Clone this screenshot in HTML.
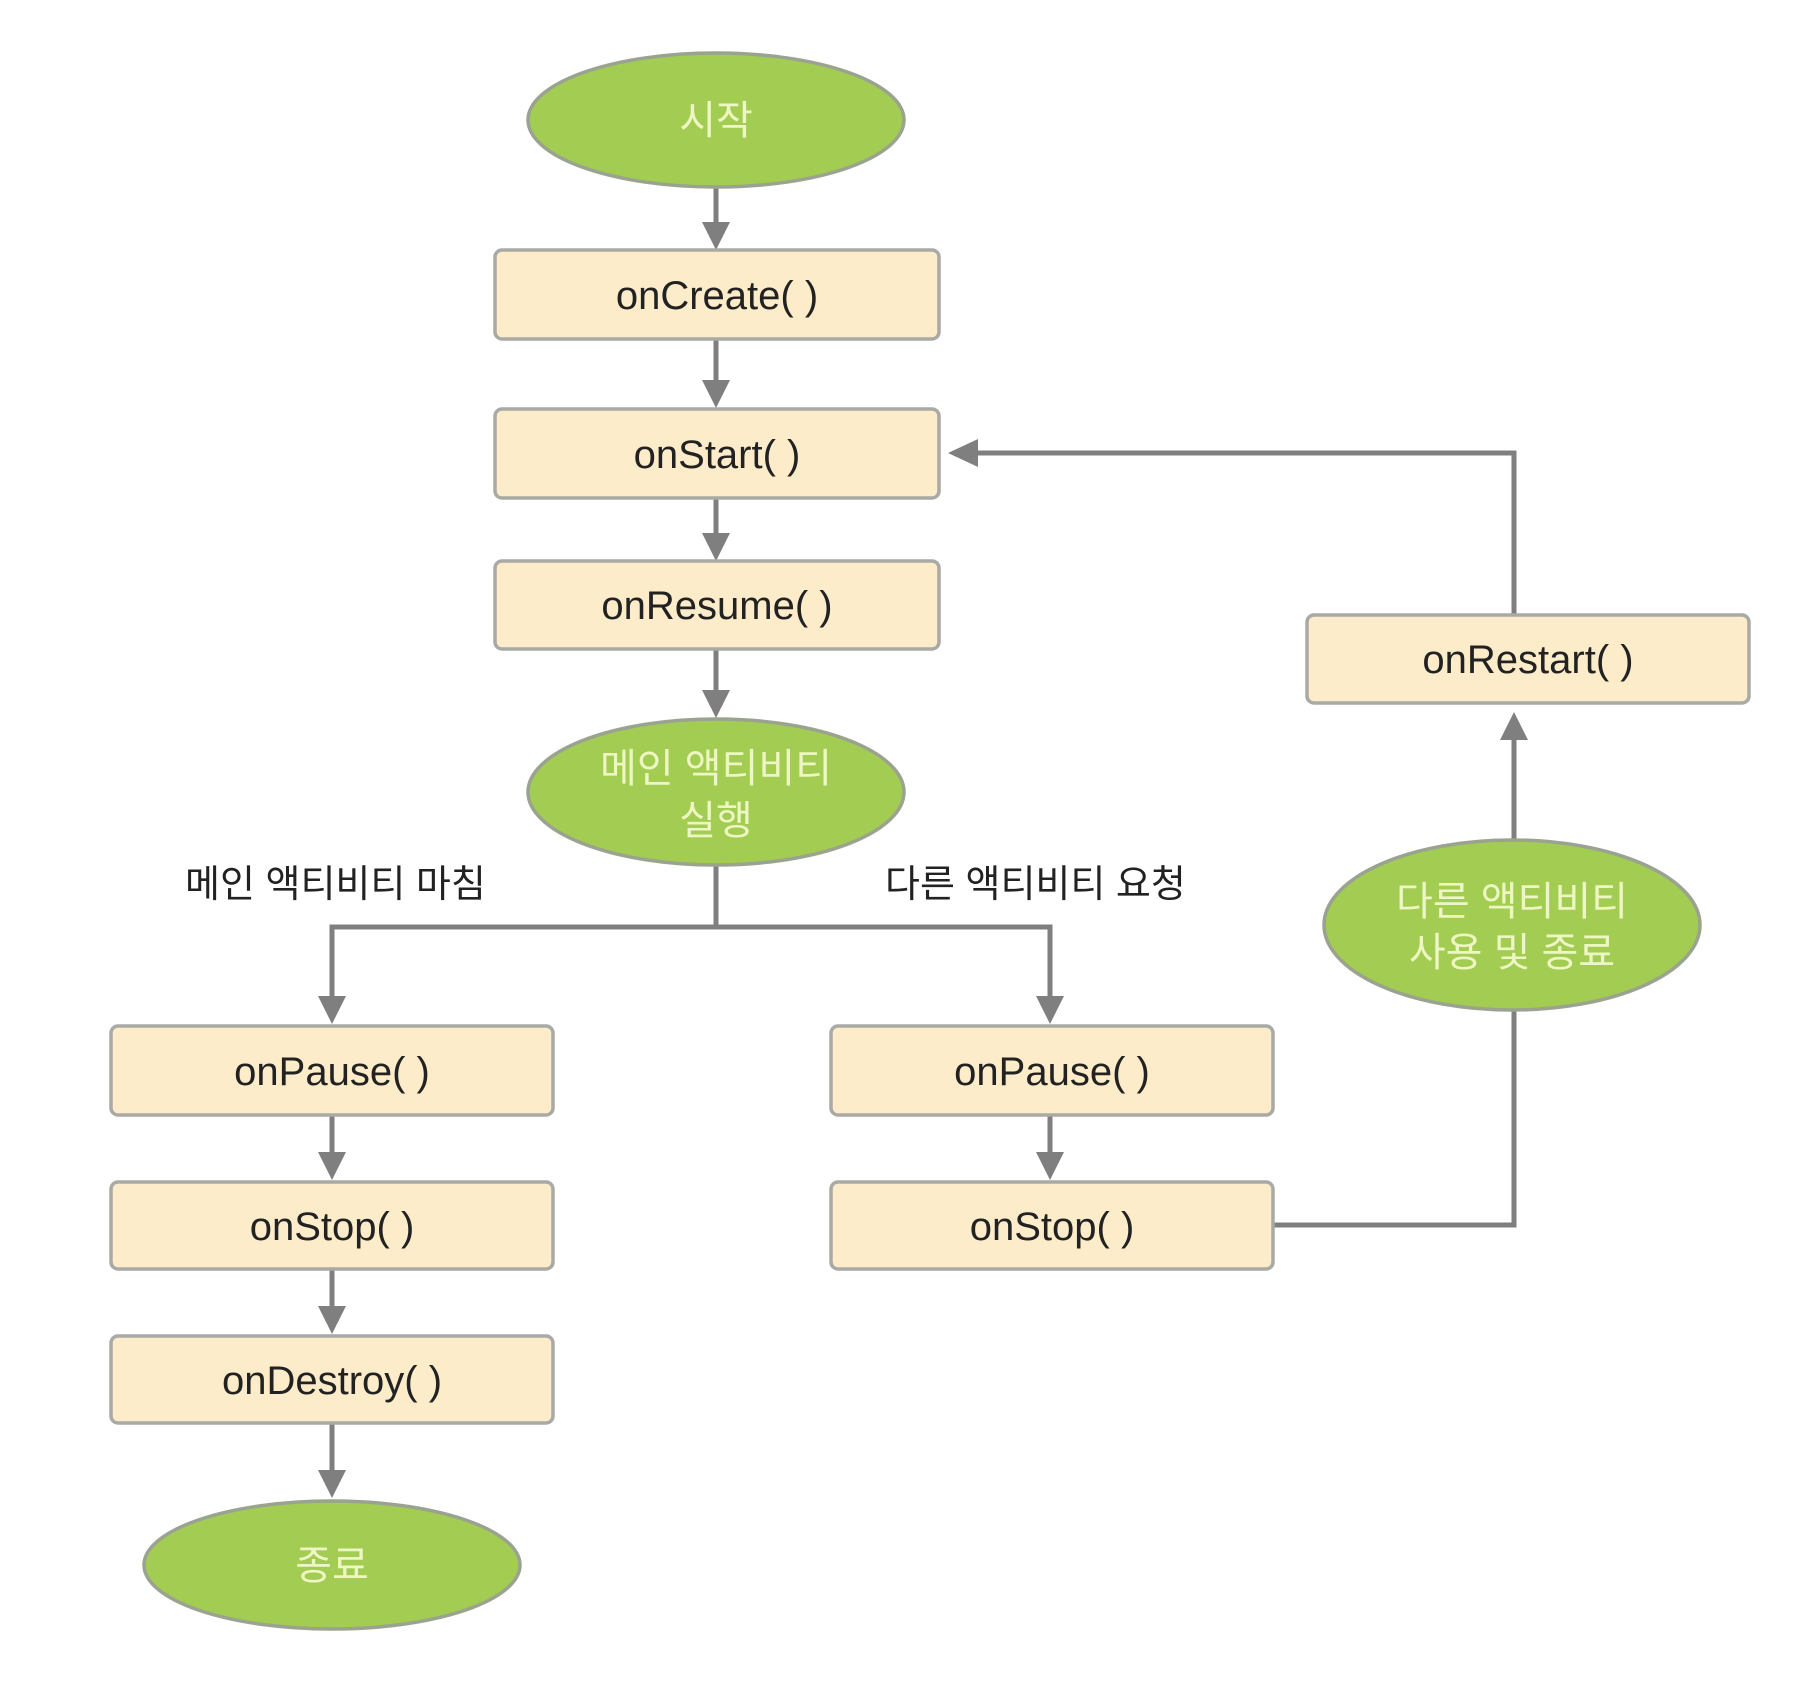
<!DOCTYPE html>
<html><head><meta charset="utf-8"><style>
html,body{margin:0;padding:0;background:#fff;}
svg{display:block}
text{font-family:"Liberation Sans","Noto Sans CJK KR","NanumGothic",sans-serif;}
.b{fill:#fdecc9;stroke:#a9a9a6;stroke-width:3.5}
.e{fill:#a3cc52;stroke:#9aa390;stroke-width:3.5}
.t{font-size:40px;fill:#222;text-anchor:middle}
.g{font-size:40px;fill:#eef7c4;text-anchor:middle}
.l{font-size:38px;fill:#222}
.ln{stroke:#7f7f7f;stroke-width:5;fill:none}
.ar{fill:#7f7f7f}
</style></head><body>
<svg width="1808" height="1684" viewBox="0 0 1808 1684" xmlns="http://www.w3.org/2000/svg">
<!-- connectors -->
<g class="ln">
<line x1="716" y1="187" x2="716" y2="230"/>
<line x1="716" y1="340" x2="716" y2="390"/>
<line x1="716" y1="498" x2="716" y2="543"/>
<line x1="716" y1="649" x2="716" y2="700"/>
<polyline points="716,865 716,927 332,927 332,1000"/>
<polyline points="716,927 1050,927 1050,1000"/>
<line x1="332" y1="1115" x2="332" y2="1162"/>
<line x1="332" y1="1269" x2="332" y2="1316"/>
<line x1="332" y1="1423" x2="332" y2="1480"/>
<line x1="1050" y1="1115" x2="1050" y2="1162"/>
<polyline points="1273,1225 1514,1225 1514,1010"/>
<line x1="1514" y1="840" x2="1514" y2="735"/>
<polyline points="1514,615 1514,453 970,453"/>
</g>
<g class="ar">
<polygon points="702,222 730,222 716,250"/>
<polygon points="702,380 730,380 716,408"/>
<polygon points="702,533 730,533 716,561"/>
<polygon points="702,690 730,690 716,718"/>
<polygon points="318,996 346,996 332,1024"/>
<polygon points="1036,996 1064,996 1050,1024"/>
<polygon points="318,1152 346,1152 332,1180"/>
<polygon points="318,1306 346,1306 332,1334"/>
<polygon points="318,1470 346,1470 332,1498"/>
<polygon points="1036,1152 1064,1152 1050,1180"/>
<polygon points="1500,740 1528,740 1514,712"/>
<polygon points="978,439 978,467 948,453"/>
</g>
<!-- ellipses -->
<ellipse class="e" cx="716" cy="120" rx="188" ry="67"/>
<text class="g" x="716" y="134">시작</text>
<ellipse class="e" cx="716" cy="792" rx="188" ry="73"/>
<text class="g" x="716" y="782">메인 액티비티</text>
<text class="g" x="716" y="834">실행</text>
<ellipse class="e" cx="1512" cy="925" rx="188" ry="85"/>
<text class="g" x="1512" y="915">다른 액티비티</text>
<text class="g" x="1512" y="966">사용 및 종료</text>
<ellipse class="e" cx="332" cy="1565" rx="188" ry="64"/>
<text class="g" x="332" y="1579">종료</text>
<!-- boxes -->
<rect class="b" x="495" y="250" width="444" height="89" rx="7"/>
<text class="t" x="717" y="309">onCreate( )</text>
<rect class="b" x="495" y="409" width="444" height="89" rx="7"/>
<text class="t" x="717" y="468">onStart( )</text>
<rect class="b" x="495" y="561" width="444" height="88" rx="7"/>
<text class="t" x="717" y="619">onResume( )</text>
<rect class="b" x="1307" y="615" width="442" height="88" rx="7"/>
<text class="t" x="1528" y="673">onRestart( )</text>
<rect class="b" x="111" y="1026" width="442" height="89" rx="7"/>
<text class="t" x="332" y="1085">onPause( )</text>
<rect class="b" x="111" y="1182" width="442" height="87" rx="7"/>
<text class="t" x="332" y="1240">onStop( )</text>
<rect class="b" x="111" y="1336" width="442" height="87" rx="7"/>
<text class="t" x="332" y="1394">onDestroy( )</text>
<rect class="b" x="831" y="1026" width="442" height="89" rx="7"/>
<text class="t" x="1052" y="1085">onPause( )</text>
<rect class="b" x="831" y="1182" width="442" height="87" rx="7"/>
<text class="t" x="1052" y="1240">onStop( )</text>
<!-- labels -->
<text class="l" x="185" y="897">메인 액티비티 마침</text>
<text class="l" x="885" y="897">다른 액티비티 요청</text>
</svg>
</body></html>
